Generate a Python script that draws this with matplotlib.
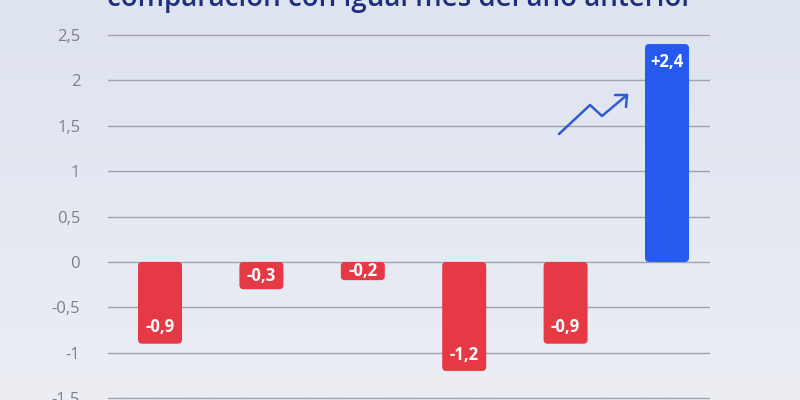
import numpy as np
import matplotlib
matplotlib.use("Agg")
import matplotlib.pyplot as plt
from matplotlib.patches import FancyBboxPatch
from matplotlib.lines import Line2D

# datos
categorias = ["m1", "m2", "m3", "m4", "m5", "m6"]
valores = [-0.9, -0.3, -0.2, -1.2, -0.9, 2.4]
etiquetas = ["-0,9", "-0,3", "-0,2", "-1,2", "-0,9", "+2,4"]
ticks_y = [-1.5, -1, -0.5, 0, 0.5, 1, 1.5, 2, 2.5]
ticks_y_txt = ["-1,5", "-1", "-0,5", "0", "0,5", "1", "1,5", "2", "2,5"]
titulo = "comparación con igual mes del año anterior"

ROJO = "#e63946"
AZUL = "#2659ef"
plt.rcParams["font.family"] = ["Open Sans", "DejaVu Sans"]

fig = plt.figure(figsize=(8, 4), dpi=100)

# fondo con degradado
bg = fig.add_axes([0, 0, 1, 1], zorder=-10)
grad = np.linspace(0, 1, 256).reshape(-1, 1)
cmap = matplotlib.colors.LinearSegmentedColormap.from_list("bg", ["#dde3ef", "#eceef4"])
bg.imshow(grad, aspect="auto", cmap=cmap, extent=[0, 1, 0, 1], origin="upper")
bg.axis("off")

ax = fig.add_axes([108 / 800, 0, (710 - 108) / 800, 1])
ax.patch.set_alpha(0)
ax.set_xlim(-0.513, 5.424)
ax.set_ylim(-1.52, 2.885)

x = np.arange(len(categorias))
ancho = 0.434
colores = [AZUL if v > 0 else ROJO for v in valores]
barras = ax.bar(x, valores, width=ancho, color=colores, zorder=3)
for b, c in zip(barras, colores):
    b.set_visible(False)
    y0 = min(b.get_y(), b.get_y() + b.get_height())
    h = abs(b.get_height())
    r = FancyBboxPatch((b.get_x(), y0), b.get_width(), h,
                       boxstyle="round,pad=0,rounding_size=0.04",
                       mutation_aspect=1.12, facecolor=c, edgecolor="none", zorder=3)
    ax.add_patch(r)

for xi, v, t in zip(x, valores, etiquetas):
    if abs(v) < 0.5:
        y = v / 2
    elif v < 0:
        y = v + 0.18
    else:
        y = v - 0.2
    ax.text(xi, y, t, ha="center", va="center", color="white",
            fontsize=12, fontweight="bold", zorder=4)

ax.set_yticks(ticks_y)
ax.set_yticklabels(ticks_y_txt)
ax.set_xticks([])
ax.grid(axis="y", color="#a0a3ae", linewidth=1, zorder=0)
ax.tick_params(axis="y", length=0, pad=20, labelsize=12, labelcolor="#7b808b")
for s in ax.spines.values():
    s.set_visible(False)

# icono de tendencia
px = np.array([559, 590, 602, 627]) / 800
py = 1 - np.array([134, 105, 116, 95]) / 400
fig.add_artist(Line2D(px, py, color="#2f5bd6", linewidth=1.8, solid_capstyle="round",
                      solid_joinstyle="round"))
tip = (627 / 800, 1 - 95 / 400)
fig.add_artist(Line2D([615 / 800, tip[0], 626 / 800], [1 - 95 / 400, tip[1], 1 - 107 / 400],
                      color="#2f5bd6", linewidth=1.8, solid_capstyle="round"))

fig.text(0.5, 1 - 6 / 400, titulo, ha="center", va="baseline", fontsize=20,
         color="#1d2f7e", fontweight="semibold")

fig.savefig("out.png", dpi=100)
